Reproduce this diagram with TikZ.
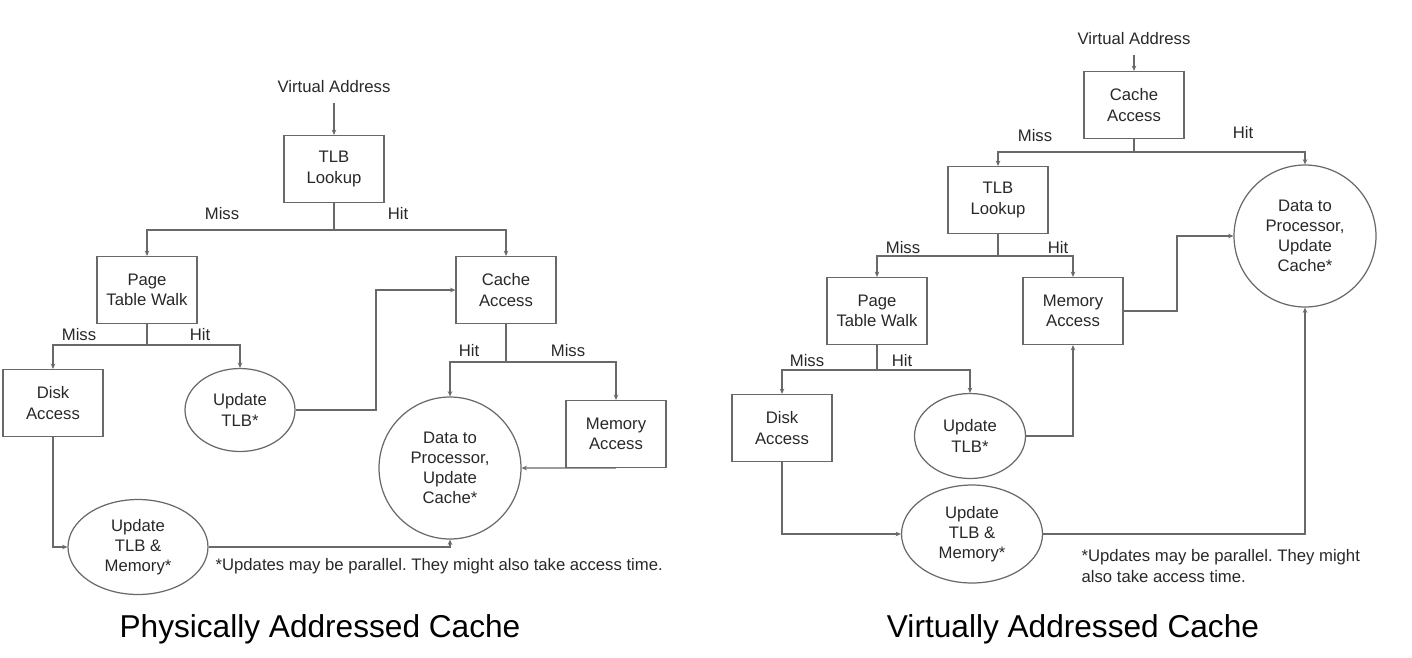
\documentclass[tikz,border=0pt]{standalone}
\usepackage{fontspec}
\setmainfont{Liberation Sans}
\frenchspacing
\usetikzlibrary{shapes,arrows.meta,calc,positioning}
\definecolor{ln}{RGB}{105,105,105}
\definecolor{tx}{RGB}{40,40,40}
\tikzset{
    box/.style={rectangle, draw, minimum width=2cm, minimum height=1.34cm, inner sep=0pt, align=center},
    oval/.style={ellipse, draw, inner sep=0pt, align=center},
    blob/.style={circle, draw, minimum size=2.84cm, inner sep=0pt, align=center},
    lbl/.style={inner sep=0pt},
    paths/.style={-{Stealth[length=3pt,width=2.6pt]}}
}
\begin{document}
\begin{tikzpicture}[x=0.02cm, y=-0.02cm, color=ln, line width=0.7pt,
every node/.style={text=tx, font=\fontsize{9.5}{11.5}\selectfont},
ttl/.style={inner sep=0pt, text=black, font=\fontsize{18}{20}\selectfont}]
\useasboundingbox (0,0) rectangle (1412,657);
\node [lbl, inner ysep=5pt] (VAp) at (334,87) {Virtual Address};
\node [box] (TLp) at (334,169) {TLB\\Lookup};
\node [box] (PWp) at (147,290) {Page\\Table Walk};
\node [box] (CAp) at (506,290) {Cache\\Access};
\node [box] (DAp) at (53,403) {Disk\\Access};
\node [oval, minimum width=2.2cm, minimum height=1.66cm] (UTp) at (240,410) {Update\\TLB*};
\node [oval, minimum width=2.8cm, minimum height=1.9cm] (UMp) at (138,547) {Update\\TLB \&\\Memory*};
\node [blob] (DPp) at (450,468) {Data to\\Processor,\\Update\\Cache*};
\node [box] (MAp) at (616,434) {Memory\\Access};
\node [lbl] (m1p) at (222,214) {Miss};
\node [lbl] (h1p) at (398,214) {Hit};
\node [lbl] (m2p) at (79,335) {Miss};
\node [lbl] (h2p) at (200,335) {Hit};
\node [lbl] (h3p) at (469,351) {Hit};
\node [lbl] (m3p) at (568,351) {Miss};
\node [lbl, anchor=west] (NTp) at (215,566) {*Updates may be parallel. They might also take access time.};
\node [ttl] (TTp) at (320,629) {Physically Addressed Cache};
\coordinate (b1p) at (334,230);
\coordinate (b2p) at (147,345);
\coordinate (b3p) at (506,362);
\coordinate (j1p) at (376,290);
\draw [paths] (VAp) -- (TLp);
\draw (TLp) -- (b1p);
\foreach \dst in {PWp, CAp}
\draw [paths] (b1p) -| (\dst);
\draw (PWp) -- (b2p);
\foreach \dst in {DAp, UTp}
\draw [paths] (b2p) -| (\dst);
\draw (CAp) -- (b3p);
\foreach \dst in {DPp, MAp}
\draw [paths] (b3p) -| (\dst);
\draw [paths] (DAp) |- (UMp);
\draw [paths] (UMp) -| (DPp);
\draw [paths] (UTp) -| (j1p) -- (CAp);
\draw [paths] (MAp.south) -- (DPp);
\node [lbl, inner ysep=5pt] (VAv) at (1134,39) {Virtual Address};
\node [box] (CAv) at (1134,105) {Cache\\Access};
\node [box] (TLv) at (998,200) {TLB\\Lookup};
\node [blob] (DPv) at (1305,236) {Data to\\Processor,\\Update\\Cache*};
\node [box] (PWv) at (877,311) {Page\\Table Walk};
\node [box] (MAv) at (1073,311) {Memory\\Access};
\node [box] (DAv) at (782,428) {Disk\\Access};
\node [oval, minimum width=2.22cm, minimum height=1.7cm] (UTv) at (970,436) {Update\\TLB*};
\node [oval, minimum width=2.82cm, minimum height=1.96cm] (UMv) at (972,534) {Update\\TLB \&\\Memory*};
\node [lbl] (m1v) at (1035,136) {Miss};
\node [lbl] (h1v) at (1243,133) {Hit};
\node [lbl] (m2v) at (903,248) {Miss};
\node [lbl] (h2v) at (1058,248) {Hit};
\node [lbl] (m3v) at (807,361) {Miss};
\node [lbl] (h3v) at (902,361) {Hit};
\node [lbl, anchor=west, align=left] (NTv) at (1081,566) {*Updates may be parallel. They might\\also take access time.};
\node [ttl] (TTv) at (1073,629) {Virtually Addressed Cache};
\coordinate (b1v) at (1134,152);
\coordinate (b2v) at (998,256);
\coordinate (b3v) at (877,370);
\coordinate (j1v) at (1177,236);
\draw [paths] (VAv) -- (CAv);
\draw (CAv) -- (b1v);
\foreach \dst in {TLv, DPv}
\draw [paths] (b1v) -| (\dst);
\draw (TLv) -- (b2v);
\foreach \dst in {PWv, MAv}
\draw [paths] (b2v) -| (\dst);
\draw (PWv) -- (b3v);
\foreach \dst in {DAv, UTv}
\draw [paths] (b3v) -| (\dst);
\draw [paths] (DAv) |- (UMv);
\draw [paths] (UMv) -| (DPv);
\draw [paths] (UTv) -| (MAv);
\draw [paths] (MAv) -| (j1v) -- (DPv);
\end{tikzpicture}
\end{document}
